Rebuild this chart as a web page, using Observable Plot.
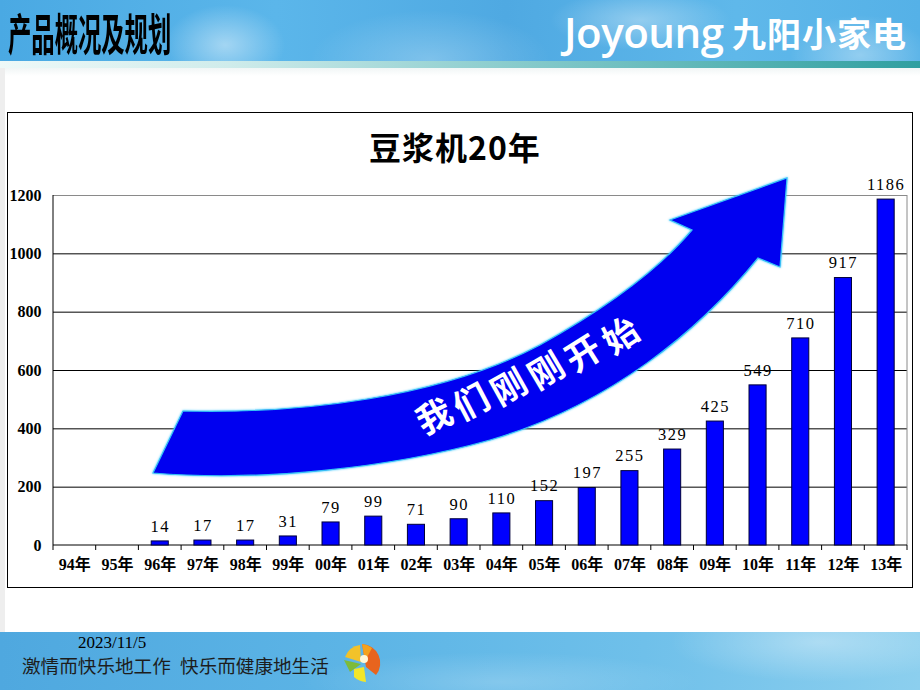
<!DOCTYPE html>
<html>
<head>
<meta charset="utf-8">
<script src="https://cdn.jsdelivr.net/npm/d3@7"></script>
<script src="https://cdn.jsdelivr.net/npm/@observablehq/plot@0.6"></script>
<style>
  html, body { margin: 0; padding: 0; }
  body { width: 920px; height: 690px; overflow: hidden; position: relative; background: #fff; font-family: "Noto Sans CJK SC", sans-serif; }
  #banner { position: absolute; left: 0; top: 0; width: 920px; height: 62px;
    background:
      radial-gradient(ellipse 60px 40px at 225px 45px, rgba(255,255,255,0.45), rgba(255,255,255,0) 100%),
      radial-gradient(ellipse 90px 30px at 640px 20px, rgba(255,255,255,0.35), rgba(255,255,255,0) 100%),
      radial-gradient(ellipse 70px 40px at 860px 55px, rgba(255,255,255,0.35), rgba(255,255,255,0) 100%),
      radial-gradient(ellipse 120px 50px at 430px 60px, rgba(255,255,255,0.25), rgba(255,255,255,0) 100%),
      linear-gradient(90deg, #4aa9e3 0%, #5bb6ea 30%, #4fa9e2 55%, #5fb8ea 80%, #55b1e7 100%); }
  #strip { position: absolute; left: 0; top: 61px; width: 920px; height: 7px;
    background: linear-gradient(90deg, #eef9f8 0%, #cfeceb 25%, #7fc7c8 60%, #2f9fa0 100%); }
  #shade { position: absolute; left: 0; top: 68px; width: 920px; height: 8px;
    background: linear-gradient(180deg, #f1f6f6, #ffffff); }
  #leftband { position: absolute; left: 0; top: 68px; width: 5px; height: 564px; background: #eeeeee; }
  #title { position: absolute; left: 8px; top: 10px; font-size: 44px; line-height: 1; font-weight: 700; color: #000;
    transform: scaleX(0.53); transform-origin: left top; white-space: nowrap; }
  #logoA { position: absolute; left: 564px; top: 3px; font-family: "Open Sans", sans-serif; font-weight: 600; font-size: 42px; color: #fff; letter-spacing: -0.5px; }
  #logoB { position: absolute; left: 732px; top: 8px; font-size: 34px; font-weight: 700; color: #fff; letter-spacing: 1px; }
  #box { position: absolute; left: 7px; top: 112px; width: 904px; height: 474px; border: 1.5px solid #000; background: #fff; }
  #chartTitle { position: absolute; left: 0; width: 910px; top: 123px; text-align: center; font-size: 32px; font-weight: 700; color: #000; letter-spacing: 1px; }
  #plotwrap { position: absolute; left: 8px; top: 114px; }
  #overlay { position: absolute; left: 0; top: 0; }
  #footer { position: absolute; left: 0; top: 632px; width: 920px; height: 58px;
    background:
      radial-gradient(ellipse 150px 40px at 820px 10px, rgba(255,255,255,0.35), rgba(255,255,255,0) 100%),
      radial-gradient(ellipse 200px 30px at 500px 50px, rgba(255,255,255,0.2), rgba(255,255,255,0) 100%),
      linear-gradient(90deg, #4fa8df 0%, #5db5e6 40%, #6fc0ea 70%, #8ccfee 100%); }
  #date { position: absolute; left: 78px; top: 633px; font-family: "Liberation Serif", serif; font-size: 17px; color: #000; }
  #motto { position: absolute; left: 22px; top: 651px; font-size: 18.6px; color: #1d1d1d; white-space: nowrap; }
</style>
</head>
<body>
<div id="banner"></div>
<div id="strip"></div>
<div id="shade"></div>
<div id="leftband"></div>
<div id="title">产品概况及规划</div>
<div id="logoA">Joyoung</div>
<div id="logoB">九阳小家电</div>
<div id="box"></div>
<div id="plotwrap"></div>
<div id="chartTitle">豆浆机20年</div>
<div id="footer"></div>
<div id="date">2023/11/5</div>
<div id="motto">激情而快乐地工作&ensp;快乐而健康地生活</div>
<svg id="overlay" width="920" height="690"></svg>
<script>
// ---- data ----
const years = ["94年","95年","96年","97年","98年","99年","00年","01年","02年","03年","04年","05年","06年","07年","08年","09年","10年","11年","12年","13年"];
const values = [null,null,14,17,17,31,79,99,71,90,110,152,197,255,329,425,549,710,917,1186];
const yTicks = [0,200,400,600,800,1000,1200];
const gridBlack = [200,400,600,800,1000];
const gridGray = [1200];
const arrowText = "我们刚刚开始";

const data = years.map((y, i) => ({year: y, value: values[i]}));
const present = data.filter(d => d.value != null);

const serif = "'Liberation Serif', 'Noto Sans CJK SC', serif";

function axisFrame(index, scales, values, dimensions) {
  const {width, height, marginLeft, marginRight, marginTop, marginBottom} = dimensions;
  const x0 = marginLeft, x1 = width - marginRight, yT = marginTop, yB = height - marginBottom;
  const g = d3.create("svg:g");
  const step = (x1 - x0) / years.length;
  g.append("line").attr("x1", x1).attr("x2", x1).attr("y1", yT).attr("y2", yB).attr("stroke", "#8a8a8a");
  g.append("line").attr("x1", x0).attr("x2", x0).attr("y1", yT).attr("y2", yB).attr("stroke", "#000");
  g.append("line").attr("x1", x0).attr("x2", x1).attr("y1", yB).attr("y2", yB).attr("stroke", "#000");
  for (let i = 0; i <= years.length; i++) {
    const xx = x0 + i * step;
    g.append("line").attr("x1", xx).attr("x2", xx).attr("y1", yB).attr("y2", yB + 5).attr("stroke", "#000");
  }
  return g.node();
}

const plot = Plot.plot({
  width: 904,
  height: 473,
  marginLeft: 45,
  marginRight: 5,
  marginTop: 81,
  marginBottom: 42,
  style: {fontFamily: serif, fontSize: "16px", fontWeight: "bold", color: "#000", background: "transparent"},
  x: {type: "band", domain: years, paddingInner: 0.6, paddingOuter: 0.3, round: false, tickSize: 0, tickPadding: 13, label: null},
  y: {domain: [0, 1200], ticks: yTicks, tickSize: 0, tickPadding: 12, label: null, tickFormat: d => String(d)},
  marks: [
    Plot.ruleY(gridBlack, {stroke: "#000", strokeWidth: 1}),
    Plot.ruleY(gridGray, {stroke: "#8a8a8a", strokeWidth: 1}),
    axisFrame,
    Plot.barY(present, {x: "year", y: "value", fill: "#0000ff", stroke: "#00003a", strokeWidth: 1}),
    Plot.text(present, {x: "year", y: "value", text: d => String(d.value), dy: -15, fontSize: 16.5, fontWeight: "normal", fontFamily: serif, fill: "#000"})
  ]
});
document.getElementById("plotwrap").appendChild(plot);
plot.querySelectorAll('g[aria-label="text"] text').forEach(t => t.setAttribute("letter-spacing", "1.5"));

// ---- decorative arrow overlay ----
const ov = d3.select("#overlay");
const defs = ov.append("defs");
const f = defs.append("filter").attr("id", "glow").attr("x", "-5%").attr("y", "-5%").attr("width", "110%").attr("height", "110%");
f.append("feGaussianBlur").attr("in", "SourceAlpha").attr("stdDeviation", 1.2).attr("result", "b");
f.append("feFlood").attr("flood-color", "#3fc8ff");
f.append("feComposite").attr("in2", "b").attr("operator", "in").attr("result", "g");
const fm = f.append("feMerge");
fm.append("feMergeNode").attr("in", "g");
fm.append("feMergeNode").attr("in", "SourceGraphic");

ov.append("path")
  .attr("d", "M183,411 C300,414 440,398 540,345 C610,306 660,268 692,230 L670,220 L787,178 L780,267 L758,258 C700,330 610,405 490,440 C390,468 260,482 153,473 Z")
  .attr("fill", "#0000f0")
  .attr("stroke", "#35c0f5")
  .attr("stroke-width", 1.2)
  .attr("filter", "url(#glow)");

const p0 = [433, 414], p1 = [619, 333];
const chars = Array.from(arrowText);
chars.forEach((c, i) => {
  const t = i / (chars.length - 1);
  const cx = p0[0] + (p1[0] - p0[0]) * t;
  const cy = p0[1] + (p1[1] - p0[1]) * t + Math.sin(Math.PI * t) * 3;
  const ang = -26 - 8 * t;
  ov.append("text")
    .attr("transform", `translate(${cx},${cy}) rotate(${ang})`)
    .attr("text-anchor", "middle")
    .attr("dominant-baseline", "central")
    .attr("font-family", "'Noto Sans CJK SC', sans-serif")
    .attr("font-weight", 700)
    .attr("font-size", 35)
    .attr("fill", "#fff")
    .text(c);
});

// footer logo (decorative)
const lg = ov.append("g").attr("transform", "translate(362,663)");
lg.append("path").attr("d", "M0,-19 A19,19 0 0 1 14,12 L4,4 Z").attr("fill", "#e8641e");
lg.append("path").attr("d", "M0,-19 A19,19 0 0 1 10,-15 L3,-2 Z").attr("fill", "#f4a21c");
lg.append("path").attr("d", "M-17,-6 A19,19 0 0 1 -2,-18 L-1,-1 Z").attr("fill", "#f2c22a");
lg.append("path").attr("d", "M-18,-3 L-1,1 L-12,9 Z").attr("fill", "#7dbb3a");
lg.append("path").attr("d", "M-8,6 L2,4 L4,19 A19,19 0 0 1 -8,14 Z").attr("fill", "#f1e62a");
lg.append("circle").attr("r", 4).attr("cx", 2).attr("cy", -4).attr("fill", "#fff7d8");
</script>
</body>
</html>
